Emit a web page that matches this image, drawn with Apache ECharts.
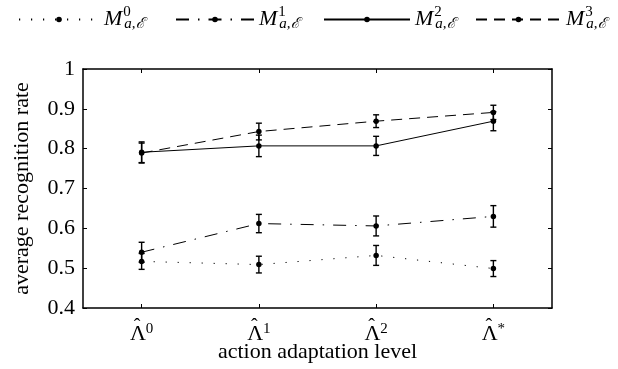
<!DOCTYPE html>
<html>
<head>
<meta charset="utf-8">
<script src="https://cdn.jsdelivr.net/npm/echarts@6/dist/echarts.min.js"></script>
<style>
  html, body { margin: 0; padding: 0; background: #fff; }
  #chart { width: 618px; height: 369px; }
</style>
</head>
<body>
<div id="chart"></div>
<script>
// adaptation levels (superscripts of the hatted Lambda)
const levels = ['0', '1', '2', '*'];
const yTicks = [0.4, 0.5, 0.6, 0.7, 0.8, 0.9, 1];

// average recognition rate per model, with half error bar
const m0 = [0.517, 0.509, 0.532, 0.499];
const m0Err = [0.020, 0.021, 0.025, 0.020];
const m1 = [0.540, 0.612, 0.606, 0.630];
const m1Err = [0.025, 0.023, 0.025, 0.027];
const m2 = [0.791, 0.807, 0.807, 0.869];
const m2Err = [0.026, 0.027, 0.024, 0.024];
const m3 = [0.789, 0.843, 0.869, 0.891];
const m3Err = [0.025, 0.021, 0.016, 0.018];

const serif = '"Liberation Serif", "DejaVu Serif", serif';
const ink = '#000';

const models = [
  { name: 'M0', sup: '0', vals: m0, err: m0Err, dash: [1.2, 10.8], left: 13, w: 80 },
  { name: 'M1', sup: '1', vals: m1, err: m1Err, dash: [13, 9, 1.5, 9], left: 170, w: 78 },
  { name: 'M2', sup: '2', vals: m2, err: m2Err, dash: 'solid', left: 318, w: 86 },
  { name: 'M3', sup: '3', vals: m3, err: m3Err, dash: [11, 7], left: 470, w: 85 },
];

const legendRich = {
  m: { fontFamily: serif, fontStyle: 'italic', fontSize: 22, color: ink },
  sup: { fontFamily: serif, fontSize: 15, color: ink, width: 0, padding: [0, 0, 14, 1] },
  sub: { fontFamily: serif, fontStyle: 'italic', fontSize: 15, color: ink, padding: [10, 0, 0, 1] },
};

const lineSeries = models.map(m => ({
  name: m.name,
  type: 'line',
  data: m.vals,
  symbol: 'circle',
  symbolSize: 5.5,
  itemStyle: { color: ink },
  lineStyle: { color: ink, width: 1, type: m.dash },
  animation: false,
  z: 3,
}));

const errSeries = models.map(m => ({
  name: m.name + ' err',
  type: 'custom',
  data: m.vals.map((v, i) => [i, v - m.err[i], v + m.err[i]]),
  renderItem: (params, api) => {
    const lo = api.coord([api.value(0), api.value(1)]);
    const hi = api.coord([api.value(0), api.value(2)]);
    const w = 3;
    const st = { stroke: ink, lineWidth: 1.4 };
    return {
      type: 'group',
      children: [
        { type: 'line', shape: { x1: lo[0], y1: lo[1], x2: hi[0], y2: hi[1] }, style: st },
        { type: 'line', shape: { x1: lo[0] - w, y1: lo[1], x2: lo[0] + w, y2: lo[1] }, style: st },
        { type: 'line', shape: { x1: hi[0] - w, y1: hi[1], x2: hi[0] + w, y2: hi[1] }, style: st },
      ],
    };
  },
  animation: false,
  z: 2,
}));

const boxAxis = {
  axisLine: { show: true, onZero: false, lineStyle: { color: ink, width: 1.5 } },
  axisTick: { show: true, inside: true, length: 4, lineStyle: { color: ink, width: 1 } },
  splitLine: { show: false },
};

const option = {
  backgroundColor: '#fff',
  animation: false,
  legend: models.map(m => ({
    data: [m.name],
    left: m.left,
    top: 0,
    itemWidth: m.w,
    itemHeight: 7,
    itemGap: 0,
    selectedMode: false,
    formatter: () => '{m|M}{sup|' + m.sup + '}{sub|a,ℰ}',
    textStyle: { rich: legendRich },
  })),
  grid: { left: 83, right: 66, top: 69, bottom: 61, outerBoundsMode: 'none' },
  xAxis: [
    {
      type: 'category',
      data: levels,
      position: 'bottom',
      ...boxAxis,
      axisTick: { ...boxAxis.axisTick, alignWithLabel: true },
      axisLabel: {
        margin: 10,
        color: ink,
        formatter: v => '{h|ˆ}\n{b|Λ}{s|' + v + '}',
        rich: {
          h: { fontFamily: serif, fontSize: 20, lineHeight: 4, verticalAlign: 'top', color: ink, padding: [0, 9, 0, 0] },
          b: { fontFamily: serif, fontSize: 22, lineHeight: 20, color: ink },
          s: { fontFamily: serif, fontSize: 15, color: ink, padding: [0, 0, 9, 0] },
        },
      },
      name: 'action adaptation level',
      nameLocation: 'middle',
      nameGap: 33,
      nameMoveOverlap: false,
      nameTextStyle: { fontFamily: serif, fontSize: 22, color: ink },
    },
    {
      type: 'category',
      data: levels,
      position: 'top',
      ...boxAxis,
      axisTick: { ...boxAxis.axisTick, alignWithLabel: true },
      axisLabel: { show: false },
    },
  ],
  yAxis: [
    {
      type: 'value',
      min: yTicks[0],
      max: yTicks[yTicks.length - 1],
      interval: 0.1,
      position: 'left',
      ...boxAxis,
      axisLabel: {
        margin: 8,
        color: ink,
        fontFamily: serif,
        fontSize: 22,
        formatter: v => (Math.abs(v - 1) < 1e-9 ? '1' : v.toFixed(1)),
      },
      name: 'average recognition rate',
      nameLocation: 'middle',
      nameGap: 50,
      nameMoveOverlap: false,
      nameTextStyle: { fontFamily: serif, fontSize: 22, color: ink },
    },
    {
      type: 'value',
      min: yTicks[0],
      max: yTicks[yTicks.length - 1],
      interval: 0.1,
      position: 'right',
      ...boxAxis,
      axisLabel: { show: false },
    },
  ],
  series: [...errSeries, ...lineSeries],
};

const chart = echarts.init(document.getElementById('chart'), null, { renderer: 'canvas' });
chart.setOption(option);
</script>
</body>
</html>
